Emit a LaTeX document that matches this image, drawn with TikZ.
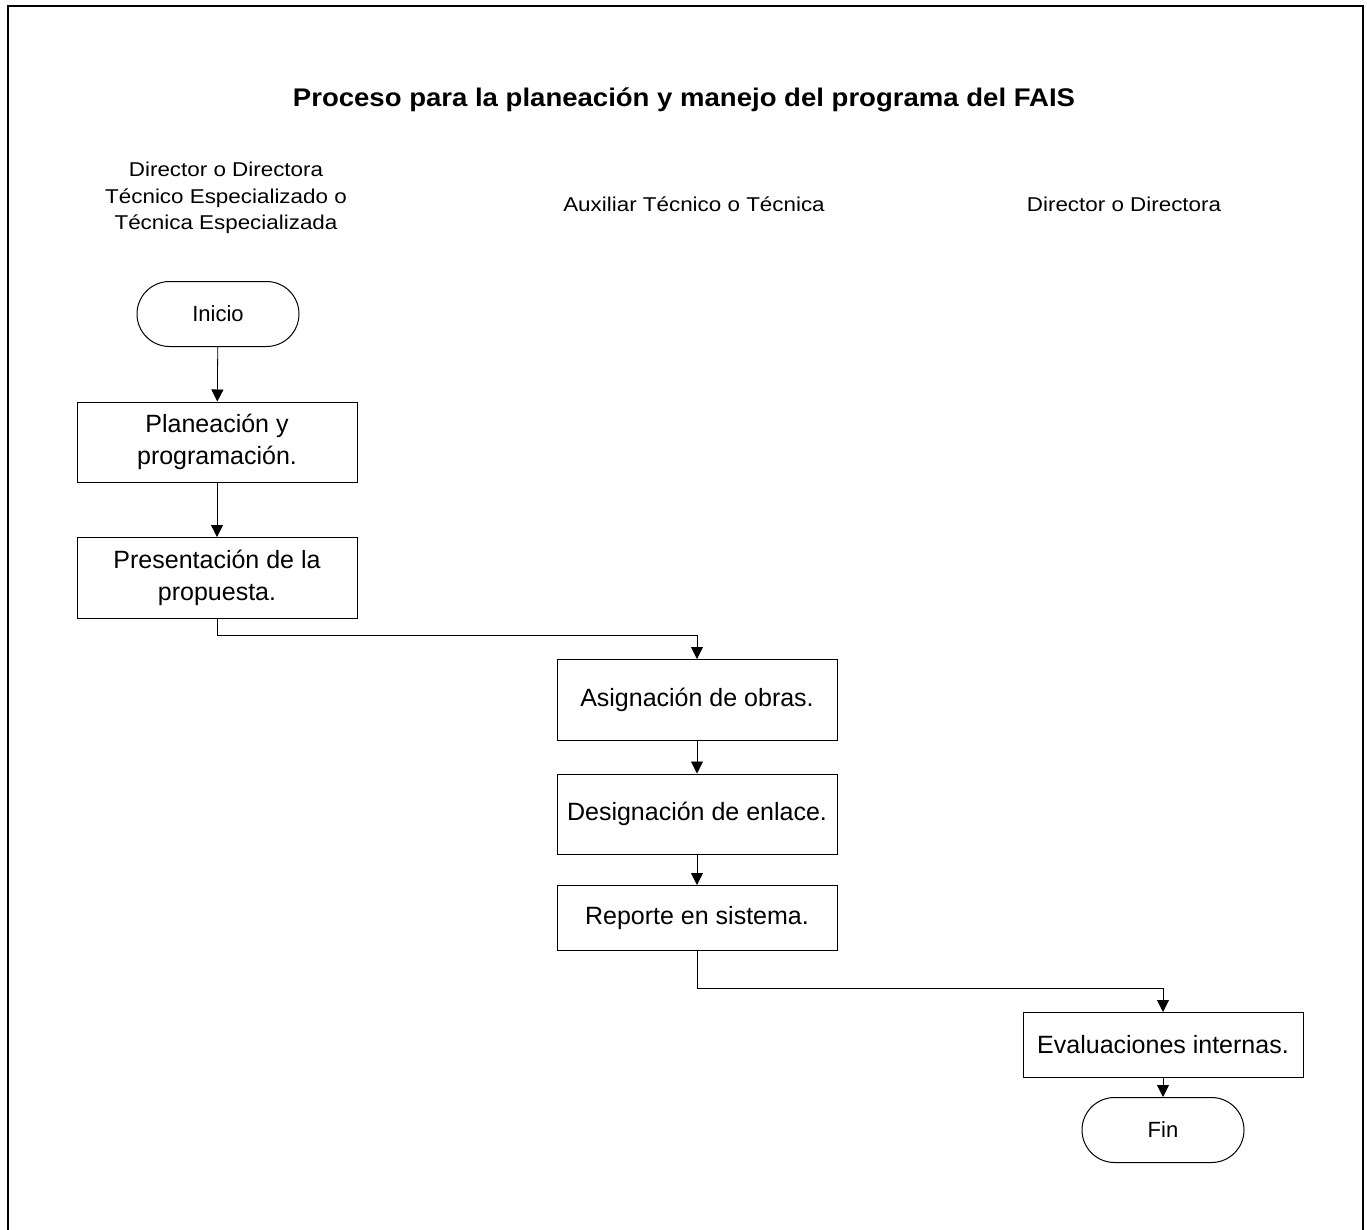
\documentclass[tikz,border=0pt]{standalone}
\usepackage{fontspec}
\setmainfont{Liberation Sans}
\newfontfamily\lanefont[FakeStretch=1.12]{Liberation Sans}
\newfontfamily\titlefont[FakeStretch=1.08]{Liberation Sans}
\usetikzlibrary{arrows.meta,shapes.misc}

\begin{document}
\begin{tikzpicture}[x=1pt,y=-1pt,
  paso/.style={draw, line width=1pt, rectangle, minimum width=280pt, align=center,
    inner sep=0pt, font=\fontsize{25}{32}\selectfont},
  terminal/.style={draw, line width=1pt, rounded rectangle, minimum width=162pt,
    minimum height=65pt, inner sep=0pt, font=\fontsize{22}{26}\selectfont},
  carril/.style={align=center, font=\lanefont\fontsize{20}{26.5}\selectfont},
  flecha/.style={line width=0.8pt, -{Triangle[length=12pt,width=12pt]}}]
\useasboundingbox (0,0) rectangle (1367,1229);
\draw[line width=2pt] (8,1240) -- (8,6) -- (1363,6) -- (1363,1240);

\node[font=\titlefont\bfseries\fontsize{25.5}{30}\selectfont] (titulo) at (684,100)
  {Proceso para la planeación y manejo del programa del FAIS};

\node[carril] (dt) at (226,198) {Director o Directora\\Técnico Especializado o\\Técnica Especializada};
\node[carril] (at) at (694,204) {Auxiliar Técnico o Técnica};
\node[carril] (dd) at (1124,204) {Director o Directora};

\node[terminal] (inicio) at (218,314) {Inicio};
\node[paso, minimum height=80pt] (plan) at (217,442) {Planeación y\\programación.};
\node[paso, minimum height=81pt] (prop) at (217,578) {Presentación de la\\propuesta.};
\node[paso, minimum height=81pt] (obras) at (697,700) {Asignación de obras.};
\node[paso, minimum height=80pt] (enlace) at (697,814) {Designación de enlace.};
\node[paso, minimum height=65pt] (rep) at (697,918) {Reporte en sistema.};
\node[paso, minimum height=65pt] (eval) at (1163,1045) {Evaluaciones internas.};
\node[terminal] (fin) at (1163,1130) {Fin};

\draw[flecha] (inicio) -- (plan);
\draw[flecha] (plan) -- (prop);
\draw[flecha] (prop.south) -- ++(0,16) -| (obras.north);
\draw[flecha] (obras) -- (enlace);
\draw[flecha] (enlace) -- (rep);
\draw[flecha] (rep.south) -- ++(0,37) -| (eval.north);
\draw[flecha] (eval) -- (fin);
\end{tikzpicture}
\end{document}
